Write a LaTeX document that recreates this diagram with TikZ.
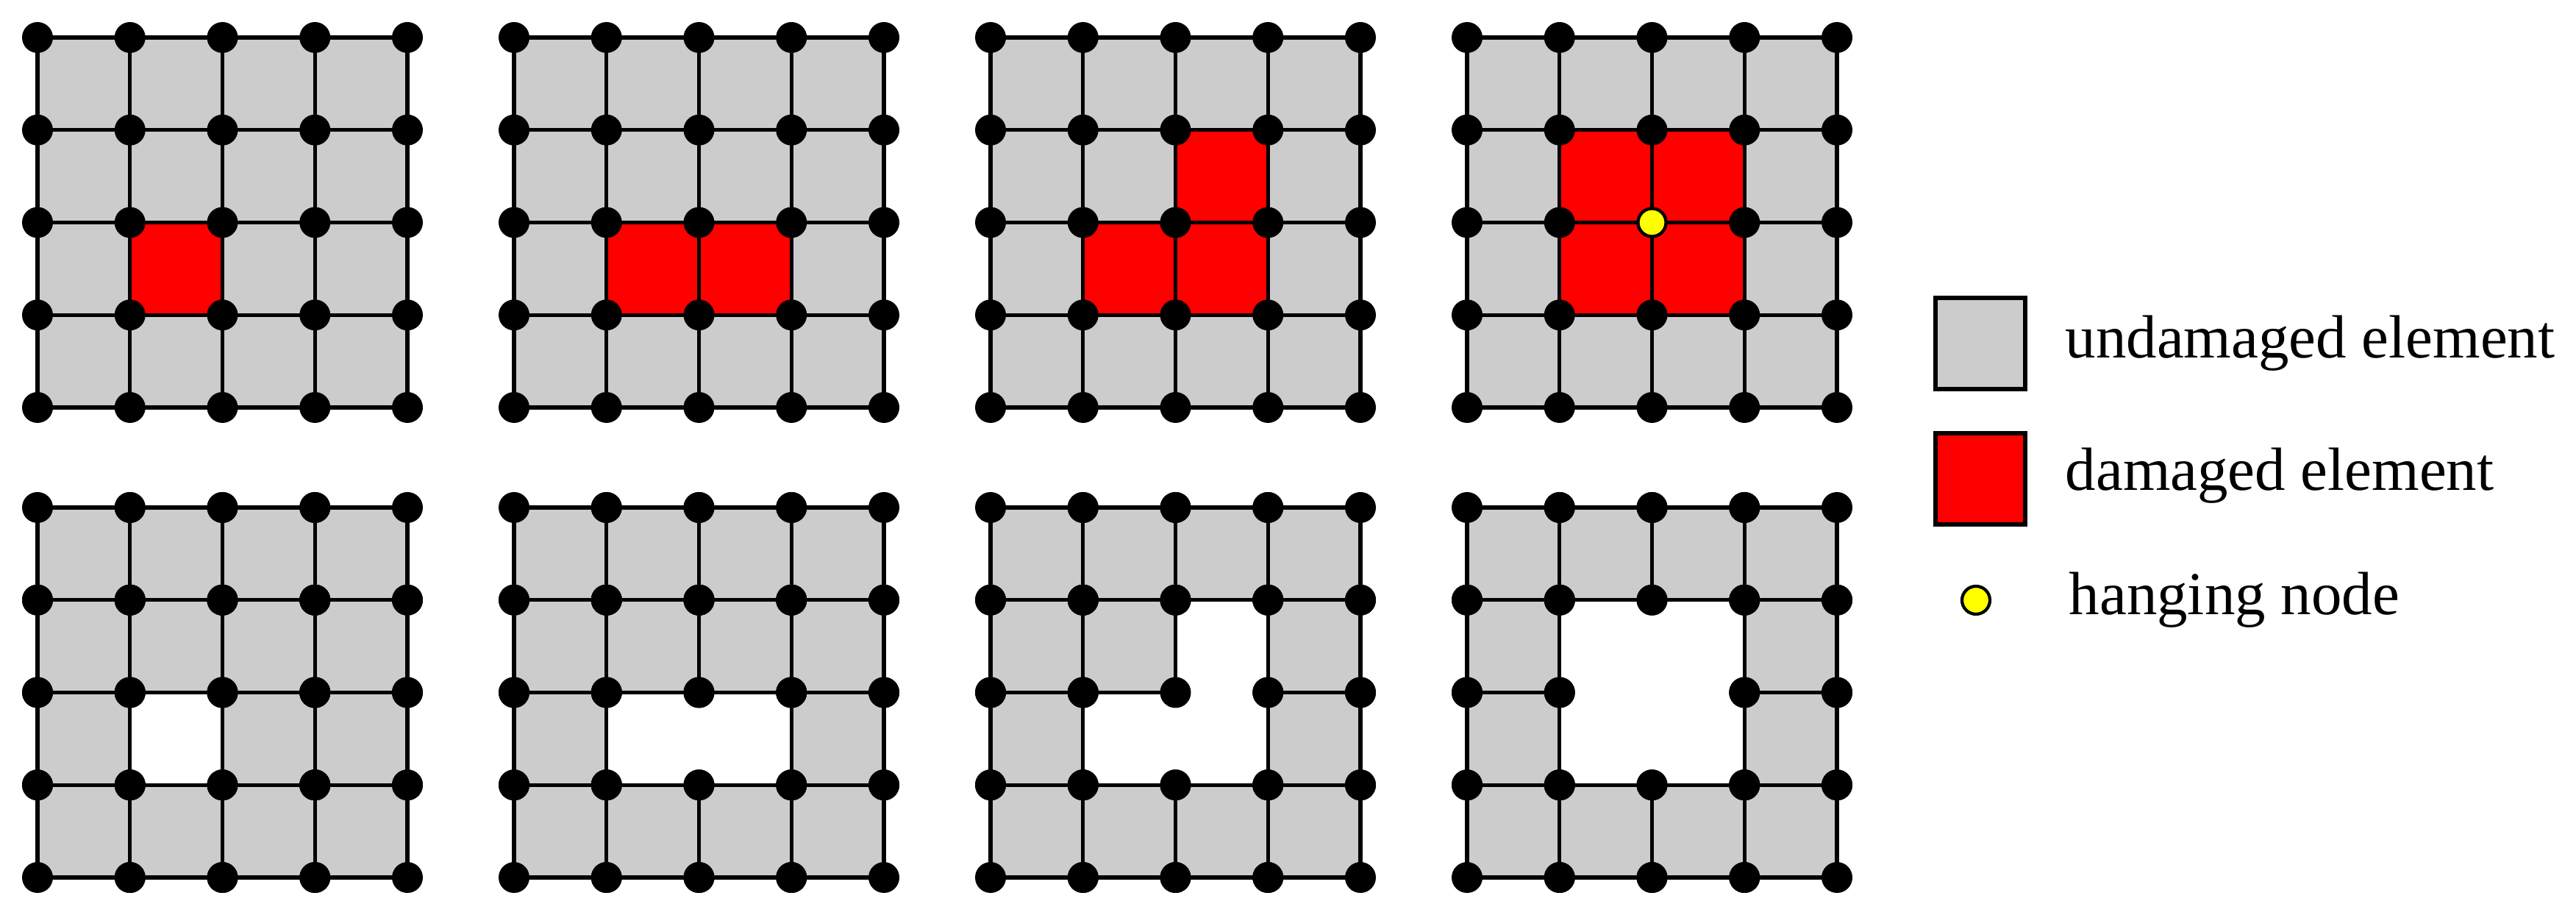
\documentclass[tikz,border=0pt]{standalone}
\usepackage{fontspec}
\setmainfont{Liberation Serif}

\definecolor{elemgray}{RGB}{204,204,204}
\definecolor{dmgred}{RGB}{255,0,0}
\definecolor{hangyellow}{RGB}{255,255,0}

\tikzset{
  elem/.style={fill=elemgray,draw=black,line width=1.45pt},
  dmgelem/.style={fill=dmgred,draw=black,line width=1.45pt},
  fenode/.style={fill=black},
  hangnode/.style={fill=hangyellow,draw=black,line width=1.2pt},
  legtext/.style={anchor=base west,inner sep=0pt,font=\fontsize{23.6}{28}\selectfont},
}

% flag = 1 if cell (#1,#2) is in the list #3 (col/row, rows counted from the top)
\newcommand\dmgflag{0}
\newcommand\checkdmg[3]{%
  \gdef\dmgflag{0}%
  \foreach \dc/\dr in {#3} {\ifnum#1=\dc\relax\ifnum#2=\dr\relax\gdef\dmgflag{1}\fi\fi}}

% mesh with damaged elements marked
\newcommand\meshbefore[3]{%
  \begin{scope}[shift={(#1,#2)},x=1.2575cm,y=1.2575cm]
    \foreach \c in {0,...,3}
      \foreach \r in {0,...,3} {
        \checkdmg{\c}{\r}{#3}
        \ifnum\dmgflag=1
          \draw[dmgelem] (\c,3-\r) rectangle (\c+1,4-\r);
        \else
          \draw[elem] (\c,3-\r) rectangle (\c+1,4-\r);
        \fi
      }
    \foreach \i in {0,...,4}
      \foreach \j in {0,...,4}
        \fill[fenode] (\i,\j) circle (0.21cm);
  \end{scope}}

% mesh with damaged elements removed
\newcommand\meshafter[3]{%
  \begin{scope}[shift={(#1,#2)},x=1.2575cm,y=1.2575cm]
    \foreach \c in {0,...,3}
      \foreach \r in {0,...,3} {
        \checkdmg{\c}{\r}{#3}
        \ifnum\dmgflag=0
          \draw[elem] (\c,3-\r) rectangle (\c+1,4-\r);
        \fi
      }
    \foreach \c in {0,...,3}
      \foreach \r in {0,...,3} {
        \checkdmg{\c}{\r}{#3}
        \ifnum\dmgflag=0
          \fill[fenode] (\c,3-\r) circle (0.21cm) (\c+1,3-\r) circle (0.21cm)
                        (\c,4-\r) circle (0.21cm) (\c+1,4-\r) circle (0.21cm);
        \fi
      }
  \end{scope}}

\begin{document}
\begin{tikzpicture}
  \useasboundingbox (0,0) rectangle (35.03,12.44);

  % top row
  \meshbefore{0.51}{6.90}{1/2}
  \meshbefore{6.99}{6.90}{1/2,2/2}
  \meshbefore{13.47}{6.90}{2/1,1/2,2/2}
  \meshbefore{19.95}{6.90}{1/1,2/1,1/2,2/2}
  \filldraw[hangnode] (22.465,9.415) circle (0.19cm);

  % bottom row
  \meshafter{0.51}{0.51}{1/2}
  \meshafter{6.99}{0.51}{1/2,2/2}
  \meshafter{13.47}{0.51}{2/1,1/2,2/2}
  \meshafter{19.95}{0.51}{1/1,2/1,1/2,2/2}

  % legend
  \draw[elem,line width=1.7pt] (26.32,7.15) rectangle (27.54,8.39);
  \draw[dmgelem,line width=1.7pt] (26.32,5.31) rectangle (27.54,6.55);
  \filldraw[hangnode] (26.87,4.28) circle (0.19cm);
  \node[legtext] (lgundmg) at (28.08,7.57) {undamaged element};
  \node[legtext] (lgdmg) at (28.08,5.77) {damaged element};
  \node[legtext] (lghang) at (28.13,4.08) {hanging node};
\end{tikzpicture}
\end{document}
